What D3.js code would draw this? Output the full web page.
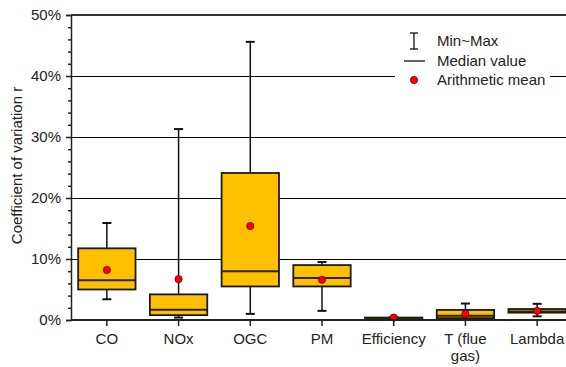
<!DOCTYPE html>
<html>
<head>
<meta charset="utf-8">
<script src="https://cdn.jsdelivr.net/npm/d3@7"></script>
<style>
  html, body { margin: 0; padding: 0; background: #fff; }
  svg { display: block; font-family: "Liberation Sans", Arial, sans-serif; }
  svg text { font-family: "Liberation Sans", Arial, sans-serif; }
</style>
</head>
<body>
<svg id="chart" width="566" height="367"></svg>
<script>
// ---- data (fractions of 1) ----
const categories = ["CO", "NOx", "OGC", "PM", "Efficiency", "T (flue gas)", "Lambda"];
const categoryLines = [["CO"], ["NOx"], ["OGC"], ["PM"], ["Efficiency"], ["T (flue", "gas)"], ["Lambda"]];
const minValues    = [0.034, 0.004, 0.010, 0.015, 0.001, 0.002, 0.006];
const q1Values     = [0.050, 0.008, 0.055, 0.055, 0.001, 0.003, 0.012];
const medianValues = [0.065, 0.017, 0.080, 0.069, 0.0025, 0.007, 0.014];
const q3Values     = [0.1175, 0.042, 0.241, 0.090, 0.004, 0.0165, 0.018];
const maxValues    = [0.159, 0.313, 0.456, 0.095, 0.0045, 0.027, 0.0265];
const meanValues   = [0.082, 0.067, 0.154, 0.066, 0.004, 0.010, 0.015];
const yTicks = [0, 0.1, 0.2, 0.3, 0.4, 0.5];
const yMinorTicks = d3.range(0, 0.5001, 0.02);
const legendItems = ["Min~Max", "Median value", "Arithmetic mean"];

(function () {
const svg = d3.select("#chart");
const pLeft = 71, pTop = 15, pBottom = 320, pRight = 573;
const FONT = "Liberation Sans, Arial, sans-serif";

const x = d3.scaleBand().domain(categories).range([pLeft, pRight]).paddingInner(0).paddingOuter(0);
const y = d3.scaleLinear().domain([0, 0.5]).range([pBottom, pTop]);
const boxW = x.bandwidth() * 0.8;
const capW = 9;

// grid lines
svg.append("g").selectAll("line").data(yTicks.filter(d => d > 0 && d < 0.5)).join("line")
  .attr("x1", pLeft).attr("x2", 566)
  .attr("y1", d => Math.round(y(d)) + 0.5).attr("y2", d => Math.round(y(d)) + 0.5)
  .attr("stroke", "#000").attr("stroke-width", 1);

// top frame line
svg.append("line").attr("x1", pLeft).attr("x2", 566).attr("y1", y(0.5)).attr("y2", y(0.5))
  .attr("stroke", "#333").attr("stroke-width", 2);

// legend background
const lg = svg.append("g");
lg.append("rect").attr("x", 395).attr("y", 28).attr("width", 155).attr("height", 64).attr("fill", "#fff");

// y axis
const yAxis = d3.axisLeft(y).tickValues(yTicks).tickFormat(d => Math.round(d * 100) + "%").tickSize(5).tickPadding(5);
const gy = svg.append("g").attr("transform", `translate(${pLeft},0)`).call(yAxis);
gy.attr("font-family", FONT).attr("font-size", 15);
gy.select(".domain").attr("stroke", "#222").attr("stroke-width", 1.5);
gy.selectAll(".tick line").attr("stroke", "#222").attr("stroke-width", 1.5);
gy.selectAll("text").attr("fill", "#222");
const minorAxis = d3.axisLeft(y).tickValues(yMinorTicks.filter(d => Math.abs(d*10 - Math.round(d*10)) > 1e-6)).tickFormat("").tickSize(3);
const gm = svg.append("g").attr("transform", `translate(${pLeft},0)`).call(minorAxis);
gm.select(".domain").remove();
gm.selectAll(".tick line").attr("stroke", "#222").attr("stroke-width", 1.5);

// y title
svg.append("text").attr("transform", `translate(22,${(pTop + pBottom) / 2 - 2}) rotate(-90)`)
  .attr("text-anchor", "middle").attr("font-size", 15).attr("fill", "#222")
  .text("Coefficient of variation r");

// boxes
const data = categories.map((c, i) => ({
  c, min: minValues[i], q1: q1Values[i], med: medianValues[i], q3: q3Values[i], max: maxValues[i], mean: meanValues[i]
}));
const gb = svg.append("g");
data.forEach(d => {
  const cx = x(d.c) + x.bandwidth() / 2;
  const g = gb.append("g");
  g.append("line").attr("x1", cx).attr("x2", cx).attr("y1", y(d.min)).attr("y2", y(d.max))
    .attr("stroke", "#111").attr("stroke-width", 1.5);
  g.append("line").attr("x1", cx - capW / 2).attr("x2", cx + capW / 2).attr("y1", y(d.max)).attr("y2", y(d.max))
    .attr("stroke", "#111").attr("stroke-width", 2);
  g.append("line").attr("x1", cx - capW / 2).attr("x2", cx + capW / 2).attr("y1", y(d.min)).attr("y2", y(d.min))
    .attr("stroke", "#111").attr("stroke-width", 2);
  g.append("rect").attr("x", cx - boxW / 2).attr("width", boxW)
    .attr("y", y(d.q3)).attr("height", Math.max(0, y(d.q1) - y(d.q3)))
    .attr("fill", "#FFC000").attr("stroke", "#1a1a1a").attr("stroke-width", 1.8);
  g.append("line").attr("x1", cx - boxW / 2).attr("x2", cx + boxW / 2).attr("y1", y(d.med)).attr("y2", y(d.med))
    .attr("stroke", "#2b2200").attr("stroke-width", 2);
});

// x axis
const xAxis = d3.axisBottom(x).tickSize(6).tickFormat("");
const gx = svg.append("g").attr("transform", `translate(0,${pBottom})`).call(xAxis);
gx.select(".domain").attr("d", `M${pLeft},0H566`).attr("stroke", "#222").attr("stroke-width", 2);
gx.selectAll(".tick line").attr("stroke", "#222").attr("stroke-width", 1.5);
const xl = svg.append("g");
categories.forEach((c, i) => {
  const t = xl.append("text").attr("x", x(c) + x.bandwidth() / 2).attr("y", 344)
    .attr("text-anchor", "middle").attr("font-size", 15).attr("fill", "#222");
  categoryLines[i].forEach((line, j) => {
    t.append("tspan").attr("x", x(c) + x.bandwidth() / 2).attr("dy", j === 0 ? 0 : 17).text(line);
  });
});

// means
gb.selectAll("circle").data(data).join("circle")
  .attr("cx", d => x(d.c) + x.bandwidth() / 2).attr("cy", d => y(d.mean)).attr("r", 3.6)
  .attr("fill", "#f00").attr("stroke", "#600").attr("stroke-width", 0.8);

// legend
const lx = 414, ly = [41, 61, 80];
lg.append("line").attr("x1", lx).attr("x2", lx).attr("y1", 33).attr("y2", 49).attr("stroke", "#111").attr("stroke-width", 1.3);
lg.append("line").attr("x1", lx - 4).attr("x2", lx + 4).attr("y1", 33).attr("y2", 33).attr("stroke", "#111").attr("stroke-width", 1.3);
lg.append("line").attr("x1", lx - 4).attr("x2", lx + 4).attr("y1", 49).attr("y2", 49).attr("stroke", "#111").attr("stroke-width", 1.3);
lg.append("line").attr("x1", 404).attr("x2", 425).attr("y1", 61).attr("y2", 61).attr("stroke", "#111").attr("stroke-width", 1.3);
lg.append("circle").attr("cx", lx).attr("cy", 80).attr("r", 3.6).attr("fill", "#f00").attr("stroke", "#600").attr("stroke-width", 0.8);
lg.selectAll("text.leg").data(legendItems).join("text").attr("class", "leg")
  .attr("x", 437).attr("y", (d, i) => ly[i]).attr("dy", "0.35em")
  .attr("font-size", 15).attr("fill", "#222").text(d => d);
})();
</script>
</body>
</html>
